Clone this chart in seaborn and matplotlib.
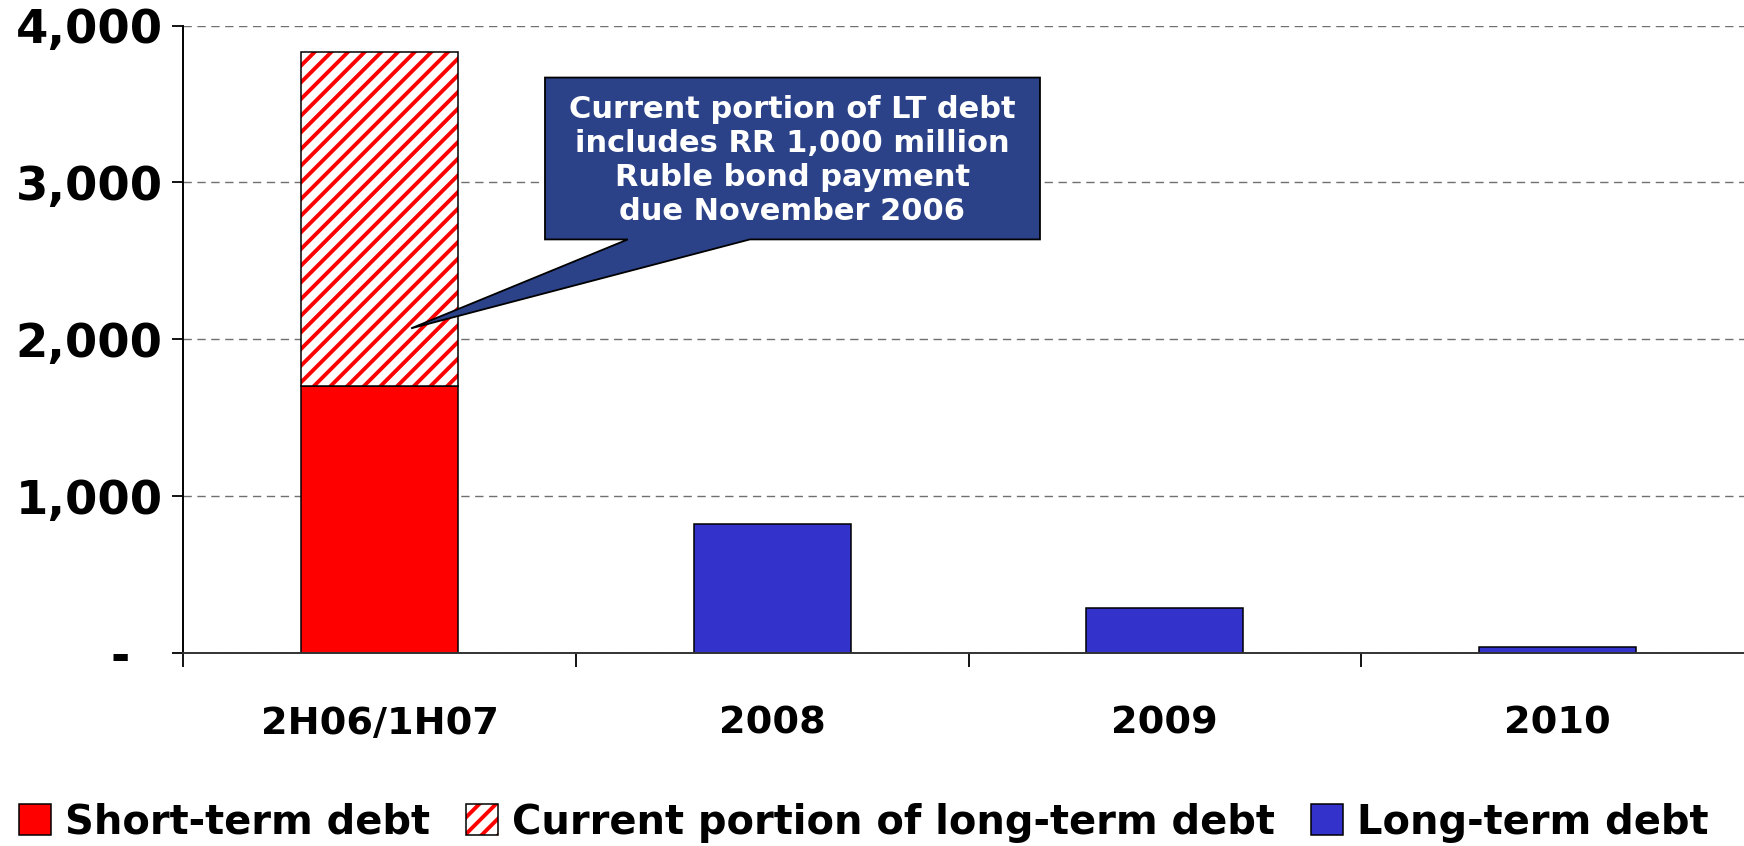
import matplotlib
matplotlib.use('Agg')
import matplotlib.pyplot as plt
import seaborn as sns
from matplotlib.patches import Patch, Polygon, Rectangle

# Debt maturity profile
categories = ['2H06/1H07', '2008', '2009', '2010']
short_term = [1700]
current_lt = [2130]
long_term = [822, 287, 38]
y_ticks = [0, 1000, 2000, 3000, 4000]
y_labels = ['-  ', '1,000', '2,000', '3,000', '4,000']
legend_labels = ['Short-term debt', 'Current portion of long-term debt', 'Long-term debt']
note = 'Current portion of LT debt\nincludes RR 1,000 million\nRuble bond payment\ndue November 2006'

RED = '#FF0000'
BLUE = '#3333CC'
NAVY = '#2B4289'

sns.set_style('white')
plt.rcParams['font.family'] = ['DejaVu Sans']
plt.rcParams['hatch.linewidth'] = 2.8
plt.rcParams['text.color'] = 'black'
plt.rcParams['xtick.labelcolor'] = 'black'
plt.rcParams['ytick.labelcolor'] = 'black'

fig = plt.figure(figsize=(17.44, 8.46), dpi=100)
ax = fig.add_axes([0.1052, 0.2281, 0.9003, 0.7416])

bar_kws = dict(order=categories, width=0.4, saturation=1, errorbar=None,
               edgecolor='black', linewidth=1.1, ax=ax)

# short-term debt
sns.barplot(x=categories[:1], y=short_term, color=RED, **bar_kws)
n = len(ax.patches)
# current portion of LT debt, stacked on top, red stripes
sns.barplot(x=categories[:1], y=current_lt, bottom=short_term[0], color='white', **bar_kws)
hatched = ax.patches[n:]
for p in hatched:
    p.set_hatch('//')
    p.set_edgecolor(RED)
    p.set_linewidth(0)
    ax.add_patch(Rectangle(p.get_xy(), p.get_width(), p.get_height(), fill=False,
                           edgecolor='black', linewidth=1.1, zorder=p.get_zorder()))
# long-term debt
sns.barplot(x=categories[1:], y=long_term, color=BLUE, **bar_kws)

ax.set_xlim(-0.5, len(categories) - 0.5)
ax.set_ylim(0, 4000)
ax.set_yticks(y_ticks)
ax.set_yticklabels(y_labels)
ax.set_xlabel('')
ax.set_ylabel('')

ax.yaxis.grid(True, linestyle=(0, (6, 4)), color='#707070', linewidth=1.0)
ax.xaxis.grid(False)
ax.set_axisbelow(True)

for s in ['top', 'right']:
    ax.spines[s].set_visible(False)
ax.spines['left'].set_color('black')
ax.spines['left'].set_linewidth(1.4)
ax.spines['bottom'].set_color('#333333')
ax.spines['bottom'].set_linewidth(1.4)

ax.tick_params(axis='y', left=True, direction='out', length=8, width=1.3,
               color='black', pad=7, labelsize=33.5)
ax.set_xticks([i - 0.5 for i in range(len(categories) + 1)], minor=True)
ax.tick_params(axis='x', which='minor', bottom=True, direction='out', length=10,
               width=1.3, color='black')
ax.tick_params(axis='x', which='major', length=0, pad=38, labelsize=27.5)
for lab in ax.get_xticklabels() + ax.get_yticklabels():
    lab.set_fontweight('bold')

# callout box with pointer to the striped segment
box_x0, box_x1 = 0.421, 1.682
box_y0, box_y1 = 2637, 3669
wedge_a, wedge_b = 0.632, 0.943
tip = (0.08, 2070)
callout = Polygon([(box_x0, box_y1), (box_x1, box_y1), (box_x1, box_y0), (wedge_b, box_y0),
                   tip, (wedge_a, box_y0), (box_x0, box_y0)],
                  closed=True, facecolor=NAVY, edgecolor='black', linewidth=1.3,
                  zorder=5, clip_on=False)
ax.add_patch(callout)
ax.text((box_x0 + box_x1) / 2, (box_y0 + box_y1) / 2 - 15, note, ha='center', va='center',
        color='white', fontsize=22, fontweight='bold', linespacing=1.22, zorder=6)

handles = [
    Patch(facecolor=RED, edgecolor='black', linewidth=1.1),
    (Patch(facecolor='white', edgecolor=RED, hatch='//', linewidth=0),
     Patch(fill=False, edgecolor='black', linewidth=1.1)),
    Patch(facecolor=BLUE, edgecolor='black', linewidth=1.1),
]
fig.legend(handles, legend_labels, loc='lower left', bbox_to_anchor=(0.011, 0.004),
           ncol=3, frameon=False, prop={'weight': 'bold', 'size': 28.8},
           handlelength=0.8, handleheight=0.8, handletextpad=0.35,
           columnspacing=0.9, borderaxespad=0, borderpad=0)

fig.savefig('out.png', dpi=100)
